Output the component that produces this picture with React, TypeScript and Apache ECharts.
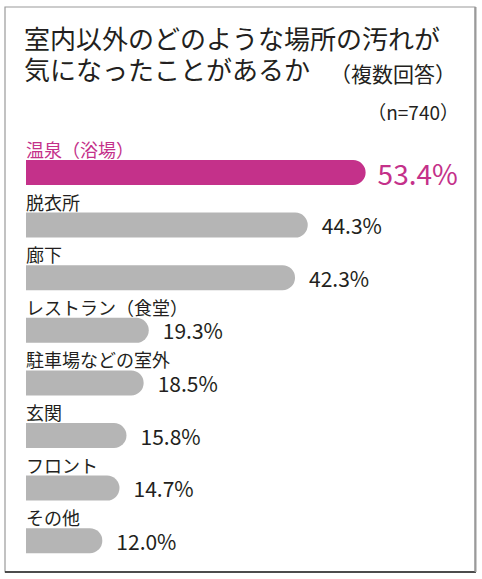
import React, { useEffect, useRef } from "react";
import * as echarts from "echarts";

const categories = [
  "温泉（浴場）",
  "脱衣所",
  "廊下",
  "レストラン（食堂）",
  "駐車場などの室外",
  "玄関",
  "フロント",
  "その他",
];
const values = [53.4, 44.3, 42.3, 19.3, 18.5, 15.8, 14.7, 12.0];
const titleLine1 = "室内以外のどのような場所の汚れが";
const titleLine2 = "気になったことがあるか";
const titleNote = "（複数回答）";
const sampleNote = "（n=740）";

const PINK = "#c4318a";
const GRAY = "#b5b5b5";
const DARK = "#231f20";
const FONT = "'Noto Sans CJK JP', 'Noto Sans', sans-serif";

export default function App() {
  const ref = useRef<HTMLDivElement>(null);
  useEffect(() => {
    document.body.style.margin = "0";
    if (!ref.current) return;
    const chart = echarts.init(ref.current, null, { renderer: "svg" });
    const barData = values.map((v, i) => ({
      value: v,
      itemStyle: { color: i === 0 ? PINK : GRAY },
      label: i === 0 ? { color: PINK } : undefined,
    }));
    const valData = values.map((v, i) => ({
      value: v,
      label: i === 0 ? { color: PINK, fontSize: 28, distance: 12 } : undefined,
    }));
    chart.setOption({
      animation: false,
      backgroundColor: "#ffffff",
      textStyle: { fontFamily: FONT },
      title: [
        {
          left: 19,
          top: 17,
          text: titleLine1,
          textStyle: { fontSize: 26, lineHeight: 30, fontWeight: "normal", color: DARK, fontFamily: FONT },
        },
        {
          left: 19,
          top: 48,
          text: `{a|${titleLine2}}{sp|}{b|${titleNote}}`,
          textStyle: {
            fontWeight: "normal",
            rich: {
              a: { fontSize: 26, lineHeight: 30, fontWeight: "normal", color: DARK, fontFamily: FONT },
              sp: { width: 20 },
              b: { fontSize: 21, lineHeight: 30, fontWeight: "normal", color: DARK, fontFamily: FONT, verticalAlign: "bottom" },
            },
          },
        },
        {
          right: 18,
          top: 97,
          text: sampleNote,
          textStyle: { fontSize: 19, fontWeight: "normal", color: DARK, fontFamily: FONT },
        },
      ],
      graphic: [
        {
          type: "rect",
          shape: { x: 5, y: 7, width: 470, height: 565 },
          style: { fill: "none", stroke: "#9a9a9a", lineWidth: 1.2 },
          silent: true,
        },
        {
          type: "line",
          shape: { x1: 5, y1: 572, x2: 476, y2: 572 },
          style: { stroke: "#222222", lineWidth: 1.6 },
          silent: true,
        },
        {
          type: "line",
          shape: { x1: 475.5, y1: 7, x2: 475.5, y2: 572 },
          style: { stroke: "#9a9a9a", lineWidth: 2 },
          silent: true,
        },
      ],
      grid: { left: 26, top: 146.2, width: 381.6, height: 420.8 },
      xAxis: {
        type: "value",
        min: 0,
        max: 60,
        show: false,
      },
      yAxis: {
        type: "category",
        data: categories,
        inverse: true,
        show: false,
      },
      series: [
        {
          type: "bar",
          data: barData,
          barWidth: 25,
          itemStyle: { borderRadius: [0, 12.5, 12.5, 0] },
          label: {
            show: true,
            position: [0, -2],
            align: "left",
            verticalAlign: "bottom",
            formatter: "{b}",
            fontSize: 18,
            color: DARK,
            fontFamily: FONT,
          },
          z: 2,
        },
        {
          type: "bar",
          data: valData,
          barWidth: 25,
          barGap: "-100%",
          itemStyle: { color: "rgba(0,0,0,0)" },
          label: {
            show: true,
            position: "right",
            distance: 14,
            fontSize: 21,
            color: DARK,
            fontFamily: FONT,
            formatter: (p: any) => `${Number(p.value).toFixed(1)}%`,
          },
          z: 1,
        },
      ],
    });
    return () => chart.dispose();
  }, []);
  return <div ref={ref} style={{ width: 482, height: 579 }} />;
}
